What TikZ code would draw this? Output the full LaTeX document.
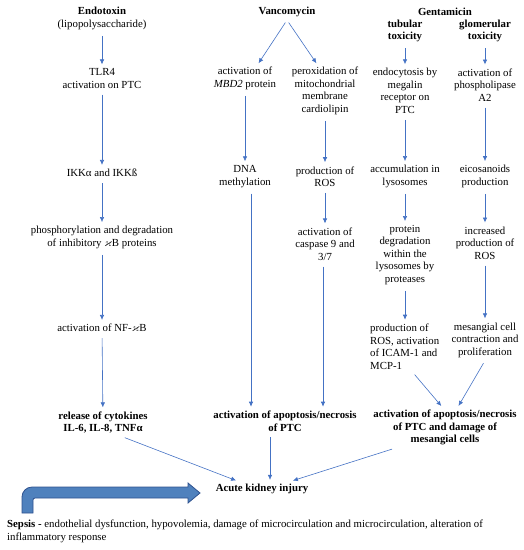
\documentclass[tikz,border=0pt]{standalone}
\usepackage{amssymb}
\usepackage{fontspec}
\setmainfont{Liberation Serif}
\usetikzlibrary{arrows.meta}

\definecolor{flowblue}{RGB}{68,114,196}
\definecolor{sepsisfill}{RGB}{79,129,189}
\definecolor{sepsisline}{RGB}{47,82,143}

\tikzset{
    box/.style={align=center, inner xsep=1pt, inner ysep=3pt, font=\fontsize{10.8}{12.5}\selectfont},
    head/.style={box, font=\fontsize{10.8}{12.5}\selectfont\bfseries},
    flow/.style={draw=flowblue, line width=0.6pt, -{Latex[length=5pt,width=4.5pt]}, shorten <=3pt, shorten >=1pt},
}

\begin{document}
\begin{tikzpicture}[x=1pt,y=-1pt]
    \useasboundingbox (0,0) rectangle (524,550);

    % Endotoxin column
    \node[head] (endo) at (102,18.5) {Endotoxin\\\mdseries(lipopolysaccharide)};
    \node[box] (tlr) at (102,78.5) {TLR4\\activation on PTC};
    \node[box] (ikk) at (102,173) {IKKα and IKKß};
    \node[box] (phos) at (102,237.5) {phosphorylation and degradation\\of inhibitory $\varkappa$B proteins};
    \node[box] (nfkb) at (102,328) {activation of NF-$\varkappa$B};
    \node[head] (cyto) at (103,422.5) {release of cytokines\\IL-6, IL-8, TNFα};

    \draw[flow] (endo) -- (tlr);
    \draw[flow] (tlr) -- (ikk);
    \draw[flow] (ikk) -- (phos);
    \draw[flow] (phos) -- (nfkb);
    \draw[flow] (nfkb) -- (cyto);

    % Vancomycin column
    \node[head] (vanco) at (287,12) {Vancomycin};
    \node[box] (mbd) at (245,78.5) {activation of\\\textit{MBD2} protein};
    \node[box] (perox) at (325,91) {peroxidation of\\mitochondrial\\membrane\\cardiolipin};
    \node[box] (dna) at (245,176.5) {DNA\\methylation};
    \node[box] (ros) at (325,176.5) {production of\\ROS};
    \node[box] (casp) at (325,244) {activation of\\caspase 9 and\\3/7};
    \node[head] (apo) at (285,421) {activation of apoptosis/necrosis\\of PTC};

    \draw[flow] (vanco.south) -- ([xshift=13pt]mbd.north);
    \draw[flow] (vanco.south) -- ([xshift=-8pt]perox.north);
    \draw[flow] (mbd) -- (dna);
    \draw[flow] (perox) -- (ros);
    \draw[flow] (ros) -- (casp);
    \draw[flow] ([xshift=6pt]dna.south) -- ([xshift=6pt]dna.south |- apo.north);
    \draw[flow] ([xshift=-2pt]casp.south) -- ([xshift=-2pt]casp.south |- apo.north);

    % Gentamicin column
    \node[head] (genta) at (445,12) {Gentamicin};
    \node[head] (tub) at (405,31) {tubular\\toxicity};
    \node[head] (glom) at (485,31) {glomerular\\toxicity};
    \node[box] (endoc) at (405,91) {endocytosis by\\megalin\\receptor on\\PTC};
    \node[box] (pla) at (485,85) {activation of\\phospholipase\\A2};
    \node[box] (lyso) at (405,176.5) {accumulation in\\lysosomes};
    \node[box] (eico) at (485,176.5) {eicosanoids\\production};
    \node[box] (prot) at (405,255) {protein\\degradation\\within the\\lysosomes by\\proteases};
    \node[box] (incr) at (485,243) {increased\\production of\\ROS};
    \node[box, align=left, anchor=west] (icam) at (369,346.5) {production of\\ROS, activation\\of ICAM-1 and\\MCP-1};
    \node[box] (mesa) at (485,340) {mesangial cell\\contraction and\\proliferation};
    \node[head] (apo2) at (445,427.5) {activation of apoptosis/necrosis\\of PTC and damage of\\mesangial cells};

    \draw[flow] (tub) -- (endoc);
    \draw[flow] (glom) -- (pla);
    \draw[flow] (endoc) -- (lyso);
    \draw[flow] (pla) -- (eico);
    \draw[flow] (lyso) -- (prot);
    \draw[flow] (eico) -- (incr);
    \draw[flow] (prot) -- (prot |- icam.north);
    \draw[flow] (incr) -- (mesa);
    \draw[flow] ([xshift=8pt]icam.south) -- ([xshift=-3pt]apo2.north);
    \draw[flow] ([xshift=0pt]mesa.south) -- ([xshift=13pt]apo2.north);

    % Acute kidney injury
    \node[head] (aki) at (262,489) {Acute kidney injury};
    \draw[flow] ([xshift=19pt]cyto.south) -- ([xshift=-25pt]aki.north);
    \draw[flow] ([xshift=-15pt]apo.south) -- ([xshift=-15pt]apo.south |- aki.north);
    \draw[flow] ([xshift=-50pt]apo2.south) -- ([xshift=30pt]aki.north);

    % Sepsis
    \draw[fill=sepsisfill, draw=sepsisline, line width=0.8pt]
        (22,513) [rounded corners=10pt]-- (22,487) [sharp corners]-- (188,487) -- (188,483)
        -- (200,493) -- (188,503) -- (188,498) [rounded corners=2pt]-- (33,498)
        [sharp corners]-- (33,513) -- cycle;
    \node[box, align=left, anchor=west] (sepsis) at (6,531.5)
        {\textbf{Sepsis -} endothelial dysfunction, hypovolemia, damage of microcirculation and microcirculation, alteration of\\inflammatory response};

\end{tikzpicture}
\end{document}
